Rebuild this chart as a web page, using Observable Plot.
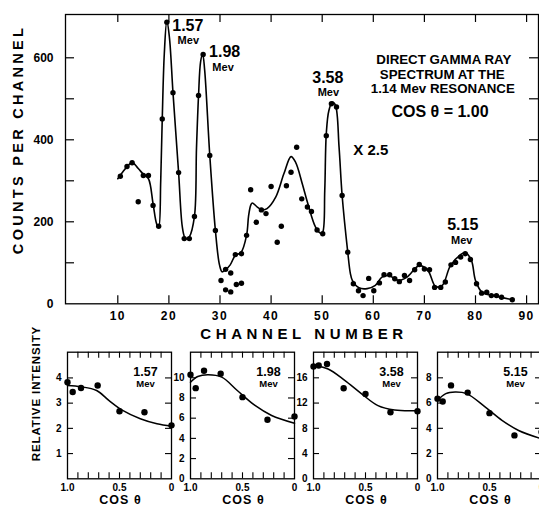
<!DOCTYPE html>
<html><head><meta charset="utf-8">
<script src="https://cdn.jsdelivr.net/npm/d3@7"></script>
<script src="https://cdn.jsdelivr.net/npm/@observablehq/plot@0.6"></script>
<style>
html,body{margin:0;padding:0;background:#fff;overflow:hidden}
#chart{position:relative;width:539px;height:508px;overflow:hidden;background:#fff}
#chart svg{position:absolute;overflow:visible}
</style></head><body><div id="chart"></div>
<script>
// ---- Main spectrum: measured points ----
const channel = [
  10.5, 11.8, 12.8, 14.0, 15.0, 16.0, 16.9, 18.0, 18.7, 19.6,
  20.8, 21.9, 23.0, 24.0, 25.0, 25.8, 26.7, 28.0, 29.1, 30.2,
  31.1, 32.1, 33.2, 34.2, 31.1, 32.1, 33.0, 34.2, 35.2, 36.0,
  37.1, 38.1, 39.0, 40.0, 41.2, 42.0, 43.0, 43.9, 45.0, 46.0,
  47.1, 47.9, 49.0, 50.1, 50.8, 51.8, 52.8, 53.9, 55.0, 56.1,
  57.1, 58.0, 59.1, 60.1, 61.2, 62.1, 63.2, 64.2, 65.1, 66.1,
  67.1, 68.1, 69.0, 70.0, 71.0, 72.0, 73.2, 74.1, 75.2, 76.1,
  77.1, 78.0, 79.0, 80.2, 81.2, 82.2, 83.1, 84.1, 85.1, 87.2];
const counts = [
  311, 335, 344, 249, 313, 313, 240, 189, 451, 687,
  515, 320, 159, 159, 213, 508, 608, 362, 179, 57,
  34, 29, 47, 50, 84, 75, 120, 122, 167, 278,
  199, 229, 220, 286, 150, 189, 288, 321, 382, 256,
  236, 225, 180, 171, 410, 488, 480, 264, 126, 49,
  32, 20, 62, 32, 51, 71, 71, 61, 54, 69,
  57, 83, 96, 85, 83, 40, 40, 53, 95, 101,
  114, 122, 108, 49, 26, 28, 20, 20, 16, 10];
// ---- Main spectrum: drawn curve ----
const fitChannel = [
  10.0, 11.0, 12.0, 12.8, 14.0, 15.0, 16.0, 16.9, 17.6, 18.0,
  18.4, 18.7, 19.1, 19.6, 20.1, 20.8, 21.9, 22.6, 23.1, 23.5,
  24.0, 25.0, 25.4, 25.8, 26.2, 26.6, 27.0, 28.0, 29.1, 29.9,
  30.4, 31.0, 32.0, 33.0, 34.1, 35.2, 35.6, 36.0, 36.3, 37.3,
  38.3, 39.2, 40.9, 42.5, 43.9, 44.8, 46.1, 47.2, 48.7, 49.7,
  50.1, 50.5, 50.8, 51.3, 52.0, 52.6, 53.3, 53.9, 55.0, 55.5,
  55.9, 57.2, 58.8, 60.4, 61.7, 63.0, 65.0, 66.6, 69.0, 70.7,
  72.2, 73.5, 75.1, 77.1, 78.0, 79.2, 80.0, 81.3, 83.6, 87.2];
const fitCounts = [
  305, 322, 337, 345, 330, 316, 305, 244, 195, 187,
  300, 451, 610, 690, 650, 515, 320, 190, 162, 158,
  163, 213, 380, 508, 590, 610, 570, 362, 179, 95,
  78, 82, 95, 118, 125, 167, 215, 240, 246, 236,
  229, 232, 260, 317, 359, 345, 293, 244, 187, 172,
  175, 276, 415, 471, 492, 484, 382, 264, 126, 75,
  57, 39, 37, 45, 65, 69, 57, 65, 93, 81,
  42, 45, 93, 120, 125, 106, 57, 28, 20, 10];
const mainXTicks = [10, 20, 30, 40, 50, 60, 70, 80, 90];
const mainYTicks = [100, 200, 300, 400, 500, 600];
const mainYLabels = [0, 200, 400, 600];
const peakLabels = ["1.57", "Mev", "1.98", "Mev", "3.58", "Mev", "5.15", "Mev", "X 2.5"];
const peakLabelChannel = [23.7, 23.8, 30.9, 30.6, 51.1, 51.2, 77.5, 77.3, 59.5];
const peakLabelCounts = [678, 642, 615, 576, 551, 515, 193, 154, 374];
const peakLabelKind = ["num", "mev", "num", "mev", "num", "mev", "num", "mev", "scale"];
const titleLines = ["DIRECT GAMMA RAY", "SPECTRUM AT THE", "1.14 Mev RESONANCE", "COS θ = 1.00"];
const titleChannel = [73.8, 73.5, 73.6, 73.05];
const titleCounts = [596, 559, 524, 468];

// ---- Angular distributions ----
const cosTheta = [1.0, 0.95, 0.87, 0.71, 0.5, 0.26, 0.0];
const int157 = [3.83, 3.44, 3.6, 3.7, 2.68, 2.64, 2.12];
const int198 = [10.3, 8.97, 10.7, 10.4, 8.08, 5.84, 6.17];
const int358 = [17.8, 17.95, 18.2, 14.35, 13.45, 10.55, 10.7];
const int515 = [6.35, 6.13, 7.4, 6.83, 5.2, 3.44, 3.7];
const fitCos157 = [1.0, 0.87, 0.72, 0.6, 0.47, 0.3, 0.14, 0.0];
const fit157 = [3.7, 3.65, 3.5, 3.1, 2.71, 2.38, 2.18, 2.08];
const fitCos198 = [1.0, 0.93, 0.83, 0.7, 0.55, 0.38, 0.22, 0.0];
const fit198 = [9.56, 10.13, 10.3, 10.06, 8.74, 7.26, 6.27, 5.5];
const fitCos358 = [1.0, 0.86, 0.7, 0.54, 0.38, 0.22, 0.0];
const fit358 = [17.95, 17.4, 15.6, 13.5, 11.6, 10.9, 10.8];
const fitCos515 = [1.0, 0.92, 0.83, 0.72, 0.54, 0.38, 0.22, 0.0];
const fit515 = [6.2, 6.75, 6.87, 6.75, 5.68, 4.63, 3.83, 3.17];
const cosTicks = [0.1, 0.2, 0.3, 0.4, 0.5, 0.6, 0.7, 0.8, 0.9];
const cosLabels = [1.0, 0.5, 0.0];
const energies = ["1.57", "1.98", "3.58", "5.15"];

const FONT = "'Liberation Sans', Arial, sans-serif";
const root = document.getElementById("chart");

function place(svg, left, top) {
  svg.style.left = left + "px";
  svg.style.top = top + "px";
  root.appendChild(svg);
}
function spaceText(svg, content, px) {
  svg.querySelectorAll("text").forEach(t => { if (t.textContent === content) t.style.letterSpacing = px + "px"; });
}

// ---- main plot ----
const W = 539, H = 345, mL = 65, mR = 1, mT = 14, mB = 41.7;
const pw = W - mL - mR, ph = H - mT - mB;
const points = channel.map((c, i) => ({c, n: counts[i]}));
const fit = fitChannel.map((c, i) => ({c, n: fitCounts[i]}));
const peaks = peakLabels.map((t, i) => ({t, c: peakLabelChannel[i], n: peakLabelCounts[i], k: peakLabelKind[i]}));
const titles = titleLines.map((t, i) => ({t, c: titleChannel[i], n: titleCounts[i], k: i === 3 ? "cos" : "title"}));
const sizeOf = {num: 16, mev: 11, scale: 15, title: 13.3, cos: 16};

const main = Plot.plot({
  width: W, height: H,
  marginLeft: mL, marginRight: mR, marginTop: mT, marginBottom: mB,
  style: {fontFamily: FONT, fontWeight: "bold", fontSize: "12px", background: "transparent", color: "black"},
  x: {domain: [-0.235, 92.33], ticks: mainXTicks, tickFormat: d => String(d), tickSize: 0, tickPadding: 8, label: null},
  y: {domain: [0, 705.6], ticks: mainYLabels, tickFormat: d => String(d), tickSize: 0, tickPadding: 12, label: null},
  marks: [
    Plot.frame({stroke: "black", strokeWidth: 1.3}),
    Plot.tickY(mainYTicks, {y: d => d, insetRight: pw - 9, strokeWidth: 1.2}),
    Plot.tickY(mainYTicks, {y: d => d, insetLeft: pw - 9, strokeWidth: 1.2}),
    Plot.tickX(mainXTicks, {x: d => d, insetTop: ph - 8, strokeWidth: 1.2}),
    Plot.tickX(mainXTicks, {x: d => d, insetBottom: ph - 8, strokeWidth: 1.2}),
    Plot.line(fit, {x: "c", y: "n", curve: "catmull-rom", stroke: "black", strokeWidth: 1.6}),
    Plot.dot(points, {x: "c", y: "n", r: 2.7, fill: "black", stroke: "none"}),
    Plot.text(peaks, {x: "c", y: "n", text: "t", fontSize: d => sizeOf[d.k], textAnchor: "middle", fill: "black"}),
    Plot.text(titles, {x: "c", y: "n", text: "t", fontSize: d => sizeOf[d.k], textAnchor: "middle", fill: "black"}),
    Plot.text(["CHANNEL NUMBER"], {frameAnchor: "bottom", dy: 30, dx: 2, lineAnchor: "middle", textAnchor: "middle", fontSize: 15}),
    Plot.text(["COUNTS PER CHANNEL"], {frameAnchor: "left", rotate: -90, dx: -47, dy: -19.7, lineAnchor: "middle", textAnchor: "middle", fontSize: 14.5})
  ]
});
spaceText(main, "CHANNEL NUMBER", 4.6);
spaceText(main, "COUNTS PER CHANNEL", 3.3);
mainXTicks.forEach(t => spaceText(main, String(t), 1.5));
place(main, 0, 0);

// ---- panels ----
const panels = [
  {vals: int157, fc: fitCos157, fv: fit157, yMax: 5.02, yTicks: [1, 2, 3, 4], yLabels: [1, 2, 3, 4], left: 66.7, ml: 50, side: true},
  {vals: int198, fc: fitCos198, fv: fit198, yMax: 12.53, yTicks: [2, 4, 6, 8, 10], yLabels: [0, 2, 4, 6, 8, 10], left: 190, ml: 28},
  {vals: int358, fc: fitCos358, fv: fit358, yMax: 20.06, yTicks: [4, 8, 12, 16], yLabels: [0, 4, 8, 12, 16], left: 313.3, ml: 28},
  {vals: int515, fc: fitCos515, fv: fit515, yMax: 10.03, yTicks: [2, 4, 6, 8], yLabels: [0, 2, 4, 6, 8], left: 436.7, ml: 28}
];
const PW = 104, PH = 126.6, pT = 6.7, pR = 6, pB = 30, pTop = 345;
panels.forEach((p, idx) => {
  const pts = cosTheta.map((c, i) => ({c, v: p.vals[i]}));
  const ln = p.fc.map((c, i) => ({c, v: p.fv[i]}));
  const marks = [
    Plot.frame({stroke: "black", strokeWidth: 1.3}),
    Plot.tickX(cosTicks, {x: d => d, insetTop: PH - 6, strokeWidth: 1.1}),
    Plot.tickX(cosTicks, {x: d => d, insetBottom: PH - 6, strokeWidth: 1.1}),
    Plot.tickY(p.yTicks, {y: d => d, insetRight: PW - 6, strokeWidth: 1.1}),
    Plot.tickY(p.yTicks, {y: d => d, insetLeft: PW - 6, strokeWidth: 1.1}),
    Plot.line(ln, {x: "c", y: "v", curve: "catmull-rom", stroke: "black", strokeWidth: 1.5}),
    Plot.dot(pts, {x: "c", y: "v", r: 3.2, fill: "black", stroke: "none"}),
    Plot.text([energies[idx]], {frameAnchor: "top-right", dx: -26, dy: 19.5, textAnchor: "middle", lineAnchor: "middle", fontSize: 12.5}),
    Plot.text(["Mev"], {frameAnchor: "top-right", dx: -26, dy: 31.5, textAnchor: "middle", lineAnchor: "middle", fontSize: 9.5}),
    Plot.text(["COS θ"], {frameAnchor: "bottom", dy: 21, dx: 1, textAnchor: "middle", lineAnchor: "middle", fontSize: 12.5})
  ];
  if (p.side) marks.push(Plot.text(["RELATIVE INTENSITY"], {frameAnchor: "left", rotate: -90, dx: -31, dy: -22, textAnchor: "middle", lineAnchor: "middle", fontSize: 11.5}));
  const svg = Plot.plot({
    width: p.ml + PW + pR, height: pT + PH + pB,
    marginLeft: p.ml, marginRight: pR, marginTop: pT, marginBottom: pB,
    style: {fontFamily: FONT, fontWeight: "bold", fontSize: "10px", background: "transparent", color: "black", overflow: "visible"},
    x: {domain: [1, 0], ticks: cosLabels, tickFormat: d => d === 0 ? "0" : d3.format(".1f")(d), tickSize: 0, tickPadding: 5, label: null},
    y: {domain: [0, p.yMax], ticks: p.yLabels, tickFormat: d => String(d), tickSize: 0, tickPadding: 6, label: null},
    marks
  });
  spaceText(svg, "COS θ", 1);
  spaceText(svg, "RELATIVE INTENSITY", 0.9);
  place(svg, p.left - p.ml, pTop);
});
</script></body></html>
